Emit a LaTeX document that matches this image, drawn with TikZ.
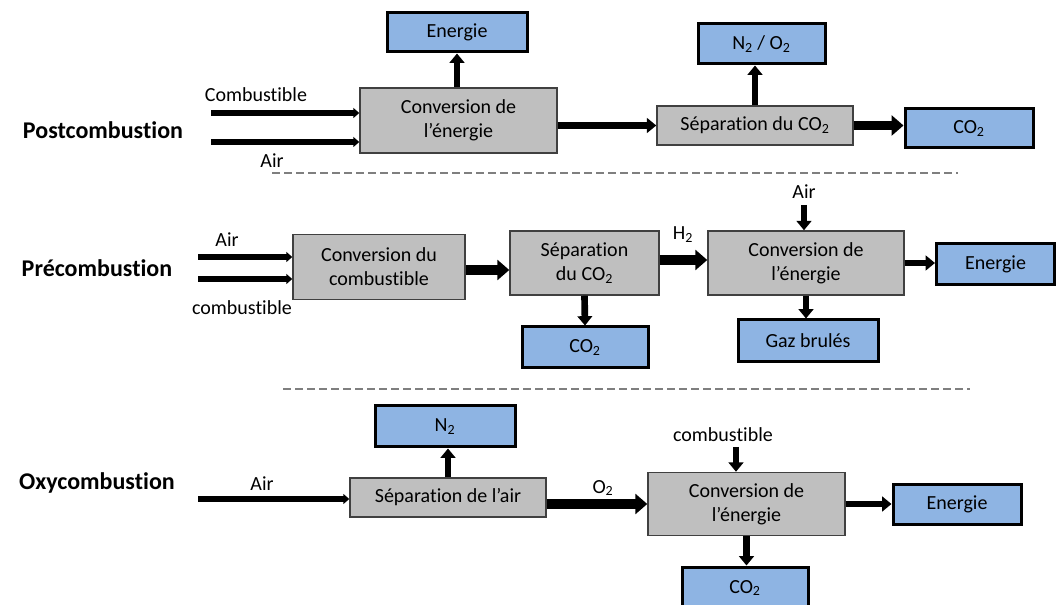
\documentclass[tikz,border=0pt]{standalone}
\usepackage{fontspec}
\setmainfont{Carlito}[Ligatures=NoCommon]
\usetikzlibrary{arrows.meta, positioning}
\definecolor{unitgray}{HTML}{BFBFBF}
\definecolor{prodblue}{HTML}{8EB4E3}
\definecolor{dashgray}{HTML}{7F7F7F}

\begin{document}
\begin{tikzpicture}[
    x=0.75pt, y=-0.75pt,
    unit/.style={draw=black!75, line width=1.1pt, fill=unitgray, align=center, inner sep=0pt, font=\fontsize{15}{18}\selectfont},
    product/.style={draw=black, line width=2.25pt, fill=prodblue, align=center, inner sep=0pt, font=\fontsize{15}{18}\selectfont},
    feed/.style={-{Triangle[length=4.5pt, width=7.5pt]}, line width=4.5pt},
    flow/.style={-{Triangle[length=7pt, width=11pt]}, line width=5pt},
    bulk/.style={-{Triangle[length=9pt, width=15pt]}, line width=7pt},
    textstyle/.style={font=\fontsize{15}{18}\selectfont},
    rowlabel/.style={font=\fontsize{18}{21}\selectfont\bfseries},
    divider/.style={dash pattern=on 6pt off 3pt, line width=1.1pt, draw=dashgray}
]
\useasboundingbox (0,0) rectangle (1056,605);

% Row: Postcombustion
\node[rowlabel] (post) at (103,130) {Postcombustion};
\node[unit, minimum width=147.75pt, minimum height=48.75pt] (conv1) at (458.5,120.5) {Conversion de\\l’énergie};
\node[product, minimum width=105pt, minimum height=29.25pt] (en1) at (457,32.5) {Energie};
\node[unit, minimum width=147pt, minimum height=29.25pt] (sep1) at (755,125.5) {Séparation du CO\textsubscript{2}};
\node[product, minimum width=95.25pt, minimum height=30pt] (no1) at (761.5,44) {N\textsubscript{2} / O\textsubscript{2}};
\node[product, minimum width=96pt, minimum height=29.25pt] (co1) at (969,128.5) {CO\textsubscript{2}};
\coordinate (comb1) at (211,113);
\coordinate (air1) at (211,142);
\node[textstyle] (comb1lbl) at (256,95) {Combustible};
\node[textstyle] (air1lbl) at (272,161) {Air};
\draw[feed] (comb1) -- (comb1 -| conv1.west);
\draw[feed] (air1) -- (air1 -| conv1.west);
\draw[flow] (en1.south |- conv1.north) -- (en1.south);
\draw[flow] (conv1.east |- sep1.west) -- (sep1.west);
\draw[flow] (sep1.north) -- (sep1.north |- no1.south);
\draw[bulk] (sep1.east) -- (sep1.east -| co1.west);

\draw[divider] (272,173) -- (958,173);

% Row: Precombustion
\node[rowlabel] (pre) at (97,268) {Précombustion};
\node[unit, minimum width=129pt, minimum height=48.75pt] (conv2) at (379,267) {Conversion du\\combustible};
\node[unit, minimum width=111.75pt, minimum height=48pt] (sep2) at (584.5,263) {Séparation\\du CO\textsubscript{2}};
\node[product, minimum width=94.5pt, minimum height=30.75pt] (co2) at (585,347.5) {CO\textsubscript{2}};
\node[unit, minimum width=147pt, minimum height=48pt] (ener2) at (806,263) {Conversion de\\l’énergie};
\node[product, minimum width=88.5pt, minimum height=30.75pt] (en2) at (995.5,264.5) {Energie};
\node[product, minimum width=105pt, minimum height=31.5pt] (gaz2) at (808,341) {Gaz brulés};
\coordinate (air2) at (198,257);
\coordinate (comb2) at (198,279);
\coordinate (air2top) at (804,205);
\node[textstyle] (air2lbl) at (227,240) {Air};
\node[textstyle] (comb2lbl) at (242,308) {combustible};
\node[textstyle] (air2toplbl) at (804,192) {Air};
\node[textstyle] (h2lbl) at (683,235) {H\textsubscript{2}};
\draw[feed] (air2) -- (air2 -| conv2.west);
\draw[feed] (comb2) -- (comb2 -| conv2.west);
\draw[bulk] (conv2.east |- 0,270) -- (sep2.west |- 0,270);
\draw[flow] (sep2.south) -- (co2.north);
\draw[bulk] (sep2.east |- 0,260) -- (ener2.west |- 0,260);
\draw[flow] (air2top) -- (air2top |- ener2.north);
\draw[flow] (ener2.east) -- (ener2.east -| en2.west);
\draw[flow] (ener2.south) -- (ener2.south |- gaz2.north);

\draw[divider] (283,389) -- (970,389);

% Row: Oxycombustion
\node[rowlabel] (oxy) at (97,483) {Oxycombustion};
\node[unit, minimum width=147pt, minimum height=29.25pt] (sepair3) at (448,497.5) {Séparation de l’air};
\node[product, minimum width=105pt, minimum height=30.75pt] (n3) at (445,426.5) {N\textsubscript{2}};
\node[unit, minimum width=147.75pt, minimum height=47.25pt] (conv3) at (746.5,504) {Conversion de\\l’énergie};
\node[product, minimum width=96pt, minimum height=30pt] (en3) at (957,504) {Energie};
\node[product, minimum width=94.5pt, minimum height=31.5pt] (co3) at (745,588) {CO\textsubscript{2}};
\coordinate (air3) at (198,499);
\coordinate (comb3) at (736,447);
\node[textstyle] (air3lbl) at (262,484) {Air};
\node[textstyle] (comb3lbl) at (723,435) {combustible};
\node[textstyle] (o2lbl) at (603,488) {O\textsubscript{2}};
\draw[feed] (air3) -- (air3 -| sepair3.west);
\draw[flow] (sepair3.north) -- (sepair3.north |- n3.south);
\draw[bulk] (sepair3.east |- conv3.west) -- (conv3.west);
\draw[flow] (comb3) -- (comb3 |- conv3.north);
\draw[flow] (conv3.east) -- (conv3.east -| en3.west);
\draw[flow] (conv3.south) -- (conv3.south |- co3.north);

\end{tikzpicture}
\end{document}
